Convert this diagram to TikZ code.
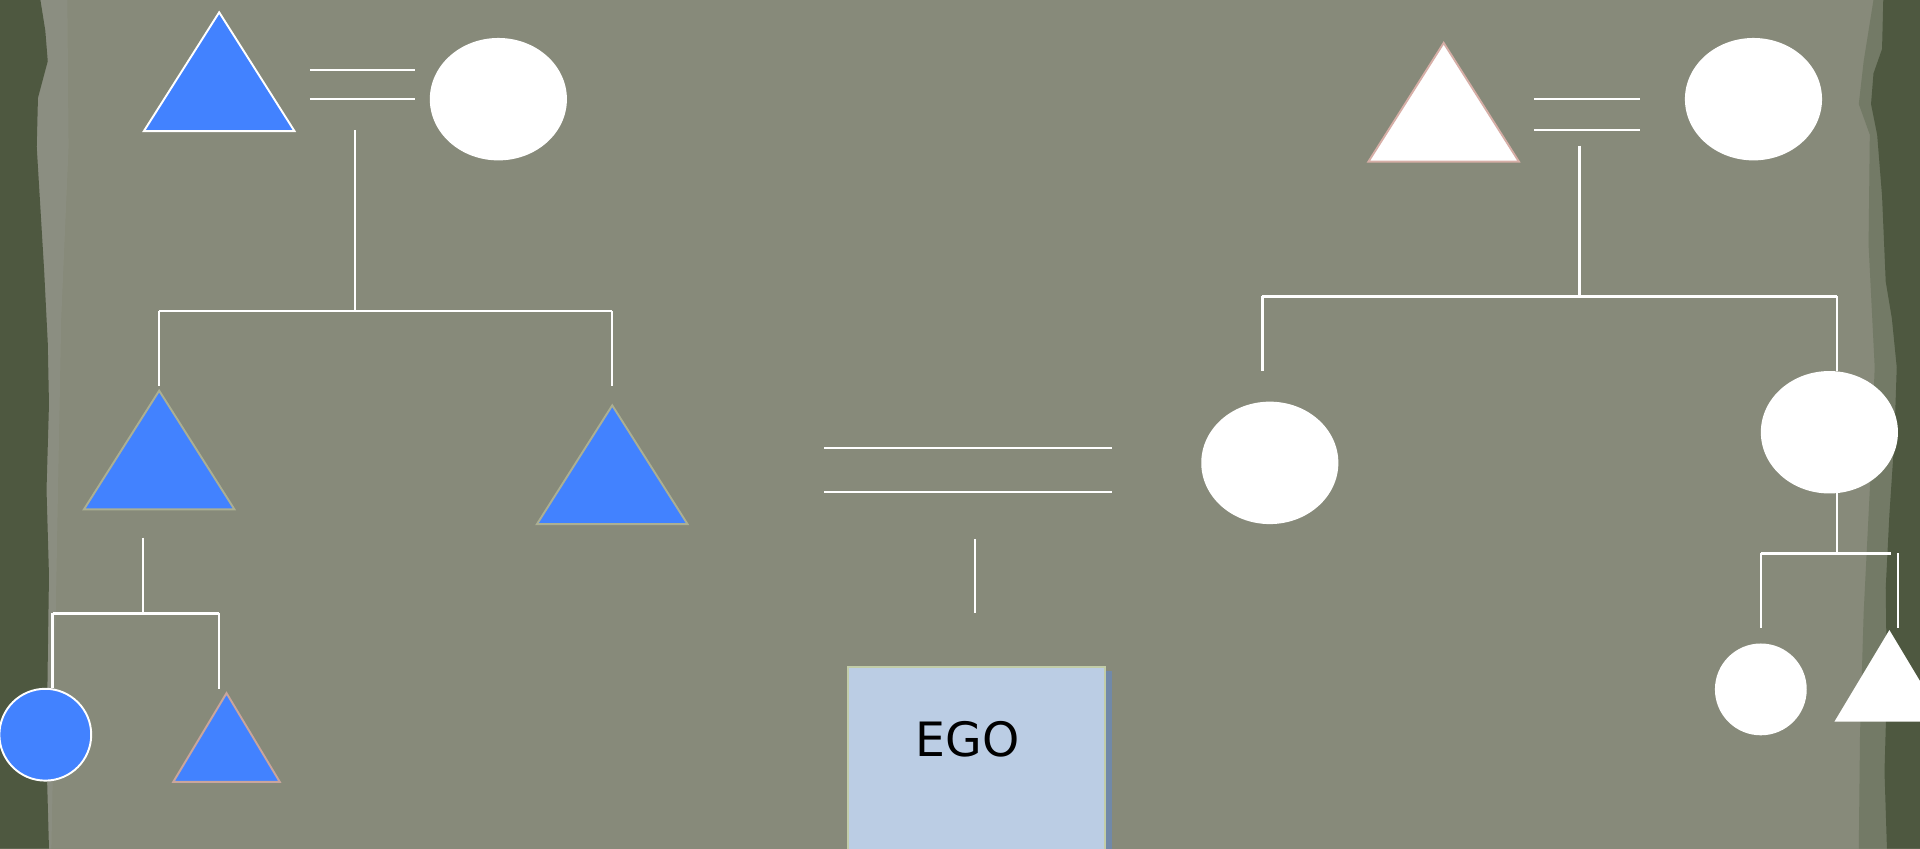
\documentclass[tikz,border=0pt]{standalone}
\usepackage{fontspec}
\setmainfont{DejaVu Sans}
\usetikzlibrary{shapes.geometric}

\definecolor{kinpaper}{HTML}{878A7A}
\definecolor{kinedge}{HTML}{4E5840}
\definecolor{kinshade}{HTML}{737A66}
\definecolor{kinhaze}{HTML}{92958A}
\definecolor{kinblue}{HTML}{4282FF}
\definecolor{kinsage}{HTML}{ABAF93}
\definecolor{kinrose}{HTML}{C9A59C}
\definecolor{kinpink}{HTML}{D6AEA6}
\definecolor{egofill}{HTML}{BBCDE4}
\definecolor{egoline}{HTML}{C2CDA8}
\definecolor{egoshadow}{HTML}{7189A9}

\tikzset{
  male/.style={
    isosceles triangle, isosceles triangle stretches, shape border rotate=90,
    inner sep=0pt, anchor=apex, line width=0.9pt,
    minimum width=2.46cm, minimum height=1.94cm
  },
  smallmale/.style={male, minimum width=1.74cm, minimum height=1.45cm},
  female/.style={
    ellipse, fill=white, inner sep=0pt,
    minimum width=2.24cm, minimum height=2.0cm
  },
  smallfemale/.style={circle, fill=white, inner sep=0pt, minimum size=1.5cm},
  kinline/.style={draw=white, line width=1.1pt}
}

\begin{document}
\begin{tikzpicture}[x=0.02cm, y=-0.02cm]

% Page: worn paper with torn dark edges left and right.
\useasboundingbox (0,0) rectangle (1568,693);
\clip (0,0) rectangle (1568,693);
\fill[kinpaper] (0,0) rectangle (1568,693);
\fill[kinhaze, opacity=0.45] (30,0) -- (55,0) -- (56,120) -- (50,260)
  -- (47,420) -- (42,693) -- (30,693) -- cycle;
\fill[kinedge] (0,0) -- (33,0) -- (37,25) -- (39,50) -- (31,80) -- (30,120)
  -- (33,170) -- (36,220) -- (39,280) -- (40,330) -- (38,400) -- (40,470)
  -- (39,540) -- (38,620) -- (40,693) -- (0,693) -- cycle;
\fill[kinshade] (1530,0) -- (1522,50) -- (1518,85) -- (1527,110)
  -- (1526,200) -- (1531,300) -- (1527,400) -- (1522,500) -- (1519,600)
  -- (1518,693) -- (1568,693) -- (1568,0) -- cycle;
\fill[kinedge] (1538,0) -- (1537,40) -- (1530,60) -- (1528,85) -- (1533,110)
  -- (1537,160) -- (1540,230) -- (1545,260) -- (1549,300) -- (1547,360)
  -- (1543,420) -- (1540,480) -- (1541,560) -- (1539,630) -- (1541,693)
  -- (1568,693) -- (1568,0) -- cycle;

% Left side of the family.
\node[male, fill=kinblue, draw=white]      (lgrandpa)  at (179,8)   {};
\node[female]                              (lgrandma)  at (407,81)  {};
\node[male, fill=kinblue, draw=kinsage]    (lfather)   at (130,317) {};
\node[male, fill=kinblue, draw=kinsage]    (luncle)    at (500,329) {};
\node[smallfemale, fill=kinblue, draw=white, line width=0.9pt]
                                           (lsister)   at (37,600)  {};
\node[smallmale, fill=kinblue, draw=kinrose] (lbrother) at (185,564) {};

% Right side of the family.
\node[male, fill=white, draw=kinpink]      (rgrandpa)  at (1179,33) {};
\node[female]                              (rgrandma)  at (1432,81) {};
\node[female]                              (rmother)   at (1037,378) {};
\node[female]                              (raunt)     at (1494,353) {};
\node[smallfemale]                         (rcousin)   at (1438,563) {};
\node[smallmale, fill=white, draw=white]   (rnephew)   at (1543,514) {};

% Ego.
\fill[egoshadow] (902,548) rectangle (908,700);
\node[draw=egoline, fill=egofill, line width=0.9pt, anchor=north west,
  minimum width=4.19cm, minimum height=3.2cm, inner sep=0pt]
                                           (egobox)    at (692,544) {};
\node[font=\fontsize{22}{26}\selectfont, text=black]
                                           (ego)       at (790,604) {EGO};

% Line ends.
\coordinate (lmu0) at (253,57);    \coordinate (lmu1) at (339,57);
\coordinate (lml0) at (253,81);    \coordinate (lml1) at (339,81);
\coordinate (ld0)  at (290,106);   \coordinate (ld1)  at (290,254);
\coordinate (ls0)  at (130,254);   \coordinate (ls1)  at (500,254);
\coordinate (ls0b) at (130,315);   \coordinate (ls1b) at (500,315);
\coordinate (lc0)  at (117,439);   \coordinate (lc1)  at (117,501);
\coordinate (lk0)  at (43,501);    \coordinate (lk1)  at (179,501);
\coordinate (lk0b) at (43,562);    \coordinate (lk1b) at (179,563);
\coordinate (em0)  at (673,366);   \coordinate (em1)  at (908,366);
\coordinate (en0)  at (673,402);   \coordinate (en1)  at (908,402);
\coordinate (ed0)  at (796,440);   \coordinate (ed1)  at (796,501);
\coordinate (rmu0) at (1253,81);   \coordinate (rmu1) at (1339,81);
\coordinate (rml0) at (1253,106);  \coordinate (rml1) at (1339,106);
\coordinate (rd0)  at (1290,119);  \coordinate (rd1)  at (1290,242);
\coordinate (rs0)  at (1031,242);  \coordinate (rs1)  at (1500,242);
\coordinate (rs0b) at (1031,303);  \coordinate (rs1b) at (1500,303);
\coordinate (rc0)  at (1500,403);  \coordinate (rc1)  at (1500,452);
\coordinate (rk0)  at (1438,452);  \coordinate (rk1)  at (1544,452);
\coordinate (rk0b) at (1438,513);
\coordinate (rk2)  at (1550,452);  \coordinate (rk2b) at (1550,513);

% Marriage, descent and sibling lines.
\foreach \from/\to in {
  lmu0/lmu1, lml0/lml1, ld0/ld1, ls0/ls1, ls0/ls0b, ls1/ls1b,
  lc0/lc1, lk0/lk1, lk0/lk0b, lk1/lk1b,
  em0/em1, en0/en1, ed0/ed1,
  rmu0/rmu1, rml0/rml1, rd0/rd1, rs0/rs1, rs0/rs0b, rs1/rs1b,
  rc0/rc1, rk0/rk1, rk0/rk0b, rk2/rk2b}
  \draw[kinline] (\from) -- (\to);

\end{tikzpicture}
\end{document}
